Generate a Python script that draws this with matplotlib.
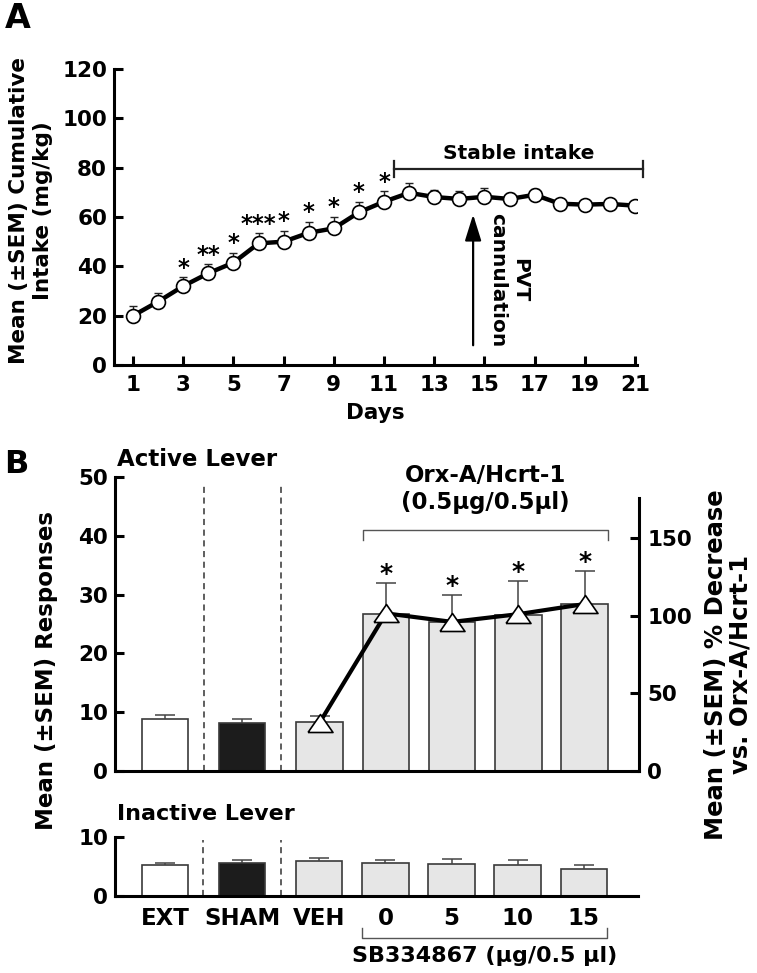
import numpy as np
import matplotlib
matplotlib.use('Agg')
import matplotlib.pyplot as plt

# ---- panel A: cumulative intake over days
days = list(range(1, 22))
intake = [20.0, 25.7, 32.0, 37.2, 41.5, 49.3, 50.0, 53.6, 55.4, 61.9, 66.2,
          69.8, 68.1, 67.3, 68.2, 67.3, 69.0, 65.4, 65.0, 65.3, 64.6]
intake_sem = [3.8, 3.6, 3.5, 3.6, 4.1, 4.1, 4.5, 4.5, 4.5, 4.2, 4.2,
              3.8, 2.8, 3.4, 3.4, 2.5, 2.5, 2.0, 2.0, 2.0, 2.0]
intake_stars = ['', '', '*', '**', '*', '***', '*', '*', '*', '*', '*',
                '', '', '', '', '', '', '', '', '', '']
stable_days = [11.4, 21.3]
cannulation_day = 14.55

# ---- panel B: lever responses
groups = ['EXT', 'SHAM', 'VEH', '0', '5', '10', '15']
active = [8.9, 8.2, 8.3, 26.7, 25.3, 26.6, 28.4]
active_sem = [0.7, 0.6, 1.1, 5.2, 4.6, 5.7, 5.6]
active_stars = ['', '', '', '*', '*', '*', '*']
inactive = [5.3, 5.7, 6.0, 5.7, 5.5, 5.2, 4.65]
inactive_sem = [0.4, 0.4, 0.5, 0.4, 0.8, 0.9, 0.65]
pct_decrease = [31.0, 101.5, 96.0, 101.0, 107.5]   # VEH, 0, 5, 10, 15

plt.rcParams['font.family'] = ['DejaVu Sans']
plt.rcParams['font.weight'] = 'bold'

W, H = 757, 973
fig = plt.figure(figsize=(W / 100, H / 100), dpi=100)


def box(x0, y0, x1, y1):
    return [x0 / W, 1 - y1 / H, (x1 - x0) / W, (y1 - y0) / H]


def px(x, y):
    return x / W, 1 - y / H


def put_stars(ax, x, y, s, size=16.5, dy=2):
    ax.annotate(s, xy=(x, y), xytext=(0, dy), textcoords='offset points',
                ha='center', va='baseline', fontsize=size, fontweight='bold',
                annotation_clip=False)


def upper_err(ax, x, y, e, color, lw, cap, z=2):
    eb = ax.errorbar(x, y, yerr=[np.zeros(len(e)), e], fmt='none', ecolor=color,
                     elinewidth=lw, capsize=cap, capthick=lw, zorder=z)
    eb[1][0].set_visible(False)


# ================= A =================
axA = fig.add_axes(box(114, 69, 637, 365))
axA.set_xlim(0.24, 21.08)
axA.set_ylim(0, 120)
for s in ['top', 'right']:
    axA.spines[s].set_visible(False)
for s in ['left', 'bottom']:
    axA.spines[s].set_linewidth(2.2)
axA.set_xticks(days[::2])
axA.set_yticks(range(0, 121, 20))
axA.tick_params(direction='in', length=6.5, width=2.2, labelsize=15.5)
axA.tick_params(axis='y', pad=5)
axA.tick_params(axis='x', pad=7)

upper_err(axA, days, intake, intake_sem, '#222222', 1.0, 3)
axA.plot(days, intake, '-o', color='black', lw=3.2, ms=10, mfc='white',
         mec='black', mew=1.2, zorder=3)
for d, m, e, st in zip(days, intake, intake_sem, intake_stars):
    if st:
        put_stars(axA, d, m + e, st)

axA.plot(stable_days, [79.5, 79.5], color='#222222', lw=1.6, clip_on=False)
for d in stable_days:
    axA.plot([d, d], [76.3, 82.7], color='#222222', lw=1.6, clip_on=False)
axA.text(np.mean(stable_days), 85.8, 'Stable intake', ha='center', va='center',
         fontsize=14.5, fontweight='bold')

axA.annotate('', xy=(cannulation_day, 61), xytext=(cannulation_day, 8),
             arrowprops=dict(arrowstyle='-|>,head_length=0.8,head_width=0.25',
                             lw=1.6, color='black', mutation_scale=20,
                             shrinkA=0, shrinkB=0))
axA.text(15.98, 34.5, 'PVT\ncannulation', rotation=-90, ha='center', va='center',
         multialignment='center', fontsize=14.5, fontweight='bold', linespacing=1.2)

axA.set_xlabel('Days', fontsize=15.5, fontweight='bold', labelpad=6)
fig.text(*px(31, 211), 'Mean (\u00b1SEM) Cumulative\nIntake (mg/kg)', rotation=90,
         ha='center', va='center', multialignment='center', fontsize=15.5,
         fontweight='bold', linespacing=1.2)
fig.text(*px(18, 19), 'A', ha='center', va='center', fontsize=24, fontweight='bold')

# ================= B =================
xpos = np.r_[np.arange(3) * 1.167, 3.338 + np.arange(4)]
colors = ['white', '#1c1c1c'] + ['#e6e6e6'] * 5
bw = 0.70
mids = [(xpos[0] + xpos[1]) / 2, (xpos[1] + xpos[2]) / 2]

axB = fig.add_axes(box(115, 477, 639, 771))
axI = fig.add_axes(box(115, 837.3, 638, 896))
for ax in (axB, axI):
    ax.set_xlim(-0.755, 7.16)
    for s in ['top', 'right']:
        ax.spines[s].set_visible(False)
    for s in ['left', 'bottom']:
        ax.spines[s].set_linewidth(2.2)
    ax.tick_params(direction='in', length=6.5, width=2.2, labelsize=15.5)
    ax.tick_params(axis='y', pad=5)

axB.set_ylim(0, 50)
axB.set_yticks(range(0, 51, 10))
axB.set_xticks([])
axB.bar(xpos, active, width=bw, color=colors, edgecolor='#3a3a3a', lw=1.2, zorder=1)
upper_err(axB, xpos, active, active_sem, '#444444', 1.1, 7)
for x, m, e, st in zip(xpos, active, active_sem, active_stars):
    if st:
        put_stars(axB, x, m + e, st, size=18, dy=1.5)
for m in mids:
    axB.plot([m, m], [0, 49], ls=(0, (4, 3)), lw=1.1, color='#333333')

# Orx bracket
lft, rgt = xpos[3] - bw / 2, xpos[6] + bw / 2
axB.plot([lft, lft, rgt, rgt], [39.3, 41, 41, 39.3], color='#555555', lw=1.0,
         clip_on=False)
axB.text((lft + rgt) / 2, 48, 'Orx-A/Hcrt-1\n(0.5\u00b5g/0.5\u00b5l)', ha='center',
         va='center', multialignment='center', fontsize=16.5, fontweight='bold',
         linespacing=1.2)
axB.text(0.003, 1.06, 'Active Lever', transform=axB.transAxes, ha='left',
         va='center', fontsize=16.5, fontweight='bold')

tri = [(-1, -0.72), (1, -0.72), (0, 0.72), (-1, -0.72)]
axR = axB.twinx()
axR.set_ylim(0, 189.3)
axR.set_yticks([0, 50, 100, 150])
for s in ['top', 'left', 'bottom']:
    axR.spines[s].set_visible(False)
axR.spines['right'].set_linewidth(2.2)
axR.spines['right'].set_bounds(0, 176)
axR.tick_params(direction='in', length=6.5, width=2.2, labelsize=15.5, pad=6)
axR.plot(xpos[2:], pct_decrease, '-', marker=tri, color='black', lw=3, ms=18,
         mfc='white', mec='black', mew=1.2, zorder=3)

fig.text(*px(728, 665), 'Mean (\u00b1SEM) % Decrease\nvs. Orx-A/Hcrt-1', rotation=90,
         ha='center', va='center', multialignment='center', fontsize=17.5,
         fontweight='bold', linespacing=1.0)
fig.text(*px(47, 670), 'Mean (\u00b1SEM) Responses', rotation=90, ha='center',
         va='center', fontsize=16.5, fontweight='bold')
fig.text(*px(16, 464), 'B', ha='center', va='center', fontsize=23, fontweight='bold')

# inactive lever
axI.set_ylim(0, 10)
axI.set_yticks([0, 10])
axI.bar(xpos, inactive, width=bw, color=colors, edgecolor='#3a3a3a', lw=1.2, zorder=1)
upper_err(axI, xpos, inactive, inactive_sem, '#444444', 1.1, 7)
for m in mids:
    axI.plot([m, m], [0, 9.6], ls=(0, (4, 3)), lw=1.1, color='#333333')
axI.set_xticks(xpos)
axI.set_xticklabels(groups)
axI.tick_params(axis='x', length=0, pad=8, labelsize=16.5)
axI.text(0.003, 1.4, 'Inactive Lever', transform=axI.transAxes, ha='left',
         va='center', fontsize=16, fontweight='bold')

axI.plot([lft, lft, rgt, rgt], [-5.45, -7.2, -7.2, -5.45], color='#555555', lw=1.0,
         clip_on=False)
axI.text((lft + rgt) / 2, -10.3, 'SB334867 (\u00b5g/0.5 \u00b5l)', ha='center',
         va='center', fontsize=16, fontweight='bold')

fig.savefig('out.png', dpi=100)
